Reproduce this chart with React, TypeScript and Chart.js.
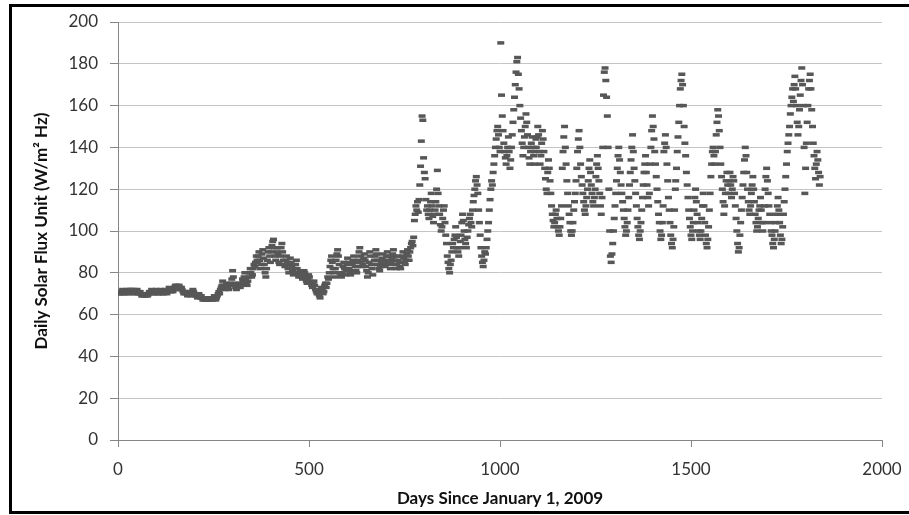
import React, { useEffect, useRef } from "react";
import { Chart, registerables } from "chart.js";

Chart.register(...registerables);

// Sampling interval (days) of the values
const STEP_DAYS = 2;

// Series start days (days since January 1, 2009)
const start2009 = 0;
const start2010 = 365;
const start2011 = 730;
const start2012 = 1095;
const start2013 = 1460;
const start2014 = 1826;

// Daily solar flux values (W/m² Hz), read every 2 days
const flux2009 = [
  70, 71, 70, 71, 70, 71, 72, 71, 70, 71,
  70, 71, 72, 71, 70, 71, 72, 72, 71, 70,
  71, 72, 71, 70, 71, 72, 71, 70, 70, 71,
  70, 69, 69, 70, 69, 70, 69, 69, 70, 69,
  70, 71, 70, 71, 72, 71, 70, 71, 70, 71,
  72, 71, 70, 71, 70, 71, 72, 71, 70, 71,
  70, 71, 72, 71, 70, 71, 72, 73, 72, 71,
  71, 72, 71, 72, 73, 74, 73, 74, 73, 72,
  74, 73, 72, 73, 72, 71, 70, 71, 70, 71,
  70, 69, 70, 71, 70, 69, 70, 71, 72, 71,
  70, 69, 70, 69, 68, 69, 70, 69, 68, 69,
  68, 67, 68, 67, 68, 67, 68, 67, 68, 67,
  68, 67, 68, 68, 67, 68, 69, 68, 67, 68,
  69, 70, 71, 70, 72, 73, 74, 76, 74, 73,
  72, 73, 75, 74, 73, 72, 74, 75, 74, 77,
  81, 78, 75, 74, 73, 72, 73, 74, 75, 74,
  73, 74, 75, 77, 76, 78, 80, 77, 75, 74,
  76, 78, 80, 82, 80, 78, 79, 82, 84, 83,
  85, 88, 86,
];
const flux2010 = [
  85, 88, 90, 86, 82, 84, 89, 91, 87, 84,
  80, 78, 82, 86, 90, 92, 88, 85, 90, 93,
  95, 96, 92, 88, 86, 90, 92, 89, 85, 84,
  88, 92, 94, 90, 86, 84, 83, 86, 88, 85,
  82, 80, 84, 87, 85, 83, 81, 79, 80, 82,
  84, 86, 82, 80, 78, 79, 81, 80, 78, 77,
  79, 81, 80, 78, 76, 75, 77, 79, 78, 76,
  75, 74, 73, 75, 76, 74, 72, 71, 70, 72,
  70, 69, 68, 71, 73, 72, 70, 71, 74, 75,
  73, 75, 78, 77, 80, 83, 86, 88, 85, 82,
  80, 78, 82, 86, 89, 91, 88, 84, 80, 79,
  78, 80, 83, 85, 82, 79, 81, 84, 87, 85,
  82, 80, 79, 81, 84, 86, 88, 85, 83, 81,
  80, 83, 86, 90, 92, 88, 85, 83, 84, 87,
  89, 86, 83, 81, 78, 80, 85, 90, 88, 84,
  82, 79, 84, 86, 88, 91, 89, 86, 84, 82,
  81, 83, 85, 87, 89, 86, 84, 83, 85, 88,
  90, 88, 86, 84, 82, 85, 87, 89, 91, 88,
  86, 84, 82,
];
const flux2011 = [
  84, 86, 88, 85, 83, 82, 85, 88, 90, 87,
  85, 84, 86, 89, 91, 88, 86, 90, 92, 94,
  95, 93, 97, 105, 108, 112, 110, 114, 109, 115,
  122, 131, 143, 155, 153, 135, 128, 125, 115, 110,
  112, 108, 106, 110, 114, 118, 112, 107, 104, 108,
  110, 114, 120, 129, 118, 112, 108, 103, 100, 102,
  106, 110, 112, 104, 98, 94, 88, 85, 82, 80,
  84, 86, 90, 94, 92, 96, 98, 102, 97, 92,
  90, 88, 92, 95, 98, 104, 108, 105, 100, 96,
  94, 92, 97, 100, 103, 106, 108, 104, 102, 110,
  114, 117, 120, 124, 126, 122, 118, 110, 104, 98,
  92, 88, 85, 83, 86, 90, 89, 92, 96, 100,
  104, 110, 115, 120, 124, 122, 128, 132, 136, 140,
  144, 148, 150, 146, 140, 138, 190, 165, 155, 148,
  142, 138, 135, 132, 136, 140, 145, 138, 130, 134,
  140, 146, 152, 158, 164, 170, 176, 181, 183, 175,
  168, 160, 154, 148, 142, 136, 140, 145, 150, 156,
  152, 146, 140, 135, 132, 138, 142, 145, 140, 136,
  132, 138, 144,
];
const flux2012 = [
  140, 145, 150, 146, 138, 132, 136, 142, 148, 144,
  138, 130, 125, 120, 118, 128, 134, 130, 124, 118,
  112, 108, 105, 102, 104, 108, 110, 106, 102, 100,
  98, 102, 106, 112, 130, 138, 145, 150, 140, 132,
  124, 118, 112, 108, 104, 100, 98, 100, 104, 110,
  114, 118, 124, 130, 138, 144, 148, 140, 132, 126,
  122, 118, 114, 110, 108, 112, 116, 120, 124, 130,
  134, 128, 122, 118, 114, 112, 116, 120, 126, 132,
  136, 130, 124, 118, 112, 108, 116, 140, 165, 176,
  178, 172, 164, 155, 140, 120, 100, 88, 85, 89,
  94, 100, 106, 112, 118, 124, 130, 136, 140, 134,
  128, 122, 118, 114, 110, 106, 102, 98, 100, 104,
  110, 116, 122, 128, 134, 140, 146, 138, 130, 124,
  118, 112, 106, 102, 98, 96, 100, 104, 110, 116,
  122, 128, 132, 136, 128, 122, 116, 112, 118, 132,
  140, 148, 155, 150, 144, 138, 132, 126, 120, 114,
  108, 104, 100, 96, 98, 104, 112, 138, 142, 146,
  140, 132, 124, 116, 110, 104, 98, 94, 92, 96,
  102, 110, 120,
];
const flux2013 = [
  124, 130, 138, 145, 152, 160, 168, 172, 175, 170,
  160, 150, 142, 136, 128, 122, 116, 110, 106, 102,
  98, 96, 100, 104, 110, 116, 120, 114, 108, 104,
  100, 98, 96, 100, 106, 112, 118, 112, 104, 98,
  94, 92, 96, 102, 110, 118, 126, 132, 138, 140,
  136, 132, 138, 146, 152, 158, 155, 148, 140, 132,
  126, 120, 114, 108, 112, 118, 124, 128, 122, 118,
  124, 128, 122, 116, 120, 126, 124, 118, 112, 106,
  100, 94, 90, 92, 98, 104, 110, 116, 122, 128,
  134, 140, 136, 128, 120, 114, 110, 108, 112, 118,
  122, 126, 120, 114, 108, 104, 100, 102, 106, 110,
  112, 116, 110, 104, 100, 104, 112, 120, 126, 130,
  124, 118, 112, 108, 104, 100, 98, 94, 92, 96,
  100, 104, 108, 112, 116, 110, 104, 98, 94, 96,
  102, 108, 114, 120, 126, 132, 138, 142, 146, 150,
  156, 160, 164, 168, 162, 170, 174, 168, 160, 152,
  146, 150, 158, 165, 172, 178, 170, 160, 140, 118,
  130, 142, 152, 160, 168, 172, 175, 168, 158, 150,
  142, 136, 130,
];
const flux2014 = [125, 132, 138, 134, 128, 122, 126];

// Axis ticks
const xTickValues = [0, 500, 1000, 1500, 2000];
const yTickValues = [0, 20, 40, 60, 80, 100, 120, 140, 160, 180, 200];

const xTitle = "Days Since January 1, 2009";
const yTitle = "Daily Solar Flux Unit (W/m\u00B2 Hz)";

function toPoints(start: number, values: number[]) {
  return values.map((v, i) => ({ x: start + i * STEP_DAYS, y: v }));
}

export default function App() {
  const canvasRef = useRef<HTMLCanvasElement | null>(null);

  useEffect(() => {
    document.body.style.margin = "0";
    const canvas = canvasRef.current;
    if (!canvas) return;
    const points = [
      ...toPoints(start2009, flux2009),
      ...toPoints(start2010, flux2010),
      ...toPoints(start2011, flux2011),
      ...toPoints(start2012, flux2012),
      ...toPoints(start2013, flux2013),
      ...toPoints(start2014, flux2014),
    ];
    const fontFamily = "Lato, 'Open Sans', sans-serif";
    const chart = new Chart(canvas, {
      type: "scatter",
      data: {
        datasets: [
          {
            data: points,
            pointStyle: "line",
            pointRadius: 3.5,
            pointHoverRadius: 3.5,
            pointBorderWidth: 3.5,
            pointBorderColor: "#575757",
            pointBackgroundColor: "#575757",
            showLine: false,
          } as any,
        ],
      },
      options: {
        animation: false,
        responsive: false,
        devicePixelRatio: 1,
        layout: { padding: { left: 0, right: 27, top: 22, bottom: 0 } },
        plugins: {
          legend: { display: false },
          tooltip: { enabled: false },
        },
        scales: {
          x: {
            type: "linear",
            min: 0,
            max: 2000,
            afterBuildTicks: (s: any) => {
              s.ticks = xTickValues.map((v) => ({ value: v }));
            },
            afterFit: (s: any) => {
              s.height = 75;
              s.paddingLeft = 0;
              s.paddingRight = 0;
            },
            grid: {
              drawOnChartArea: false,
              drawTicks: true,
              tickLength: 7,
              tickColor: "#868686",
            },
            border: { color: "#868686", width: 1 },
            ticks: {
              padding: 12,
              color: "#333333",
              maxRotation: 0,
              font: { family: fontFamily, size: 17 },
              callback: (v: any) => String(v),
            },
            title: {
              display: true,
              text: xTitle,
              color: "#111111",
              font: { family: fontFamily, size: 17, weight: "bold" },
              padding: { top: 0, bottom: 6 },
            },
          },
          y: {
            type: "linear",
            min: 0,
            max: 200,
            afterBuildTicks: (s: any) => {
              s.ticks = yTickValues.map((v) => ({ value: v }));
            },
            afterFit: (s: any) => {
              s.width = 118;
              s.paddingTop = 0;
              s.paddingBottom = 0;
            },
            grid: {
              color: "#c4c4c4",
              drawTicks: true,
              tickLength: 8,
              tickColor: "#868686",
            },
            border: { color: "#868686", width: 1 },
            ticks: {
              padding: 12,
              color: "#333333",
              font: { family: fontFamily, size: 17 },
              callback: (v: any) => String(v),
            },
            title: {
              display: true,
              text: yTitle,
              color: "#111111",
              font: { family: fontFamily, size: 17, weight: "bold" },
              padding: { top: 31, bottom: 0 },
            },
          },
        },
      },
    });
    return () => chart.destroy();
  }, []);

  return (
    <div style={{ position: "relative", width: 909, height: 515, background: "#fff" }}>
      <div
        style={{
          position: "absolute",
          left: 9,
          top: 4,
          width: 897,
          height: 504,
          borderTop: "3px solid #000",
          borderLeft: "3px solid #000",
          borderBottom: "3px solid #000",
          borderRight: "none",
        }}
      />
      <canvas
        ref={canvasRef}
        width={909}
        height={515}
        style={{ position: "absolute", left: 0, top: 0, display: "block", width: 909, height: 515 }}
      />
    </div>
  );
}
